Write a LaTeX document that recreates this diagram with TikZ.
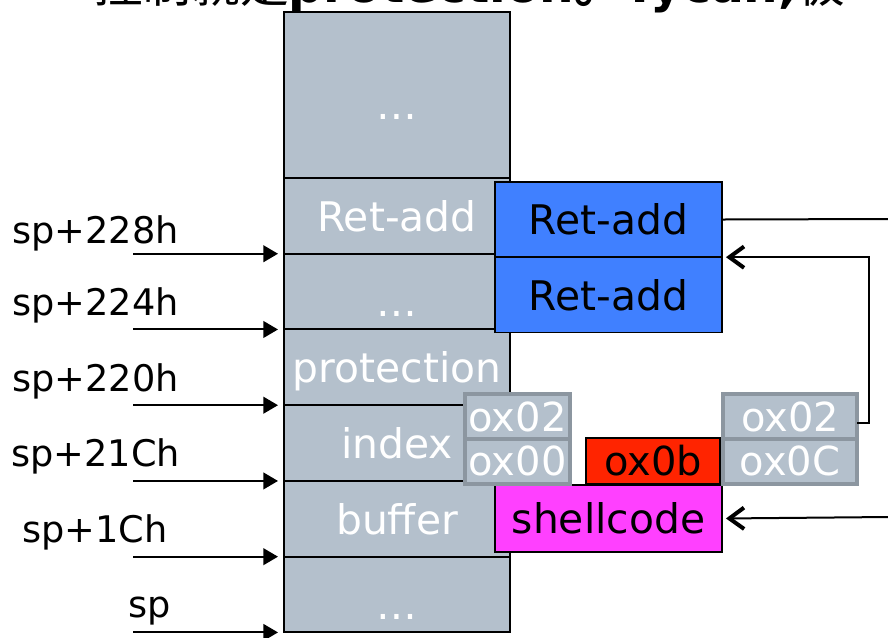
\documentclass[tikz,border=0pt]{standalone}
\usepackage{fontspec}
\setmainfont{DejaVu Sans}
\newfontfamily\cjk{Noto Sans CJK SC}
\usetikzlibrary{positioning}
\usetikzlibrary{arrows.meta}

\definecolor{stackgray}{RGB}{180,192,204}
\definecolor{hexedge}{RGB}{140,150,160}
\definecolor{retblue}{RGB}{64,128,255}
\definecolor{shellpink}{RGB}{255,64,255}
\definecolor{hexred}{RGB}{255,36,0}

\newcommand{\lowdots}{\raisebox{-7pt}{…}}

\tikzset{
    cell/.style={draw=black, line width=1.5pt, fill=stackgray, text=white, inner sep=0pt, outer sep=0pt,
        minimum width=169.5pt, minimum height=56.8pt, text height=28pt, text depth=5pt,
        font=\fontsize{30.6}{32}\selectfont},
    retbox/.style={draw=black, line width=1.2pt, fill=retblue, inner sep=0pt, outer sep=0pt,
        minimum width=170.2pt, minimum height=56.5pt, font=\fontsize{30.6}{32}\selectfont},
    hexbox/.style={draw=hexedge, line width=3pt, fill=stackgray, text=white, inner sep=0pt, outer sep=0pt,
        minimum height=33.5pt, font=\fontsize{30}{32}\selectfont},
    splabel/.style={anchor=base west, inner sep=0pt, font=\fontsize{27.5}{30}\selectfont},
    ptr/.style={line width=1.5pt, shorten >=4.5pt, -{Triangle[length=11pt,width=12.5pt]}},
    backptr/.style={line width=1.5pt, shorten >=3pt, -{Straight Barb[length=11pt,width=16pt,line width=3pt]}}
}

\begin{document}
\begin{tikzpicture}[x=0.75pt,y=-0.75pt]
    \useasboundingbox (0,0) rectangle (888,637);
    \clip (0,0) rectangle (888,637);

    %TITLE (cut off)
    \node[anchor=base west, inner sep=0pt, font=\fontsize{36.5}{40}\selectfont] (title) at (94,2)
        {{\cjk 控制就是}\textbf{protection{\cjk 。}Tycan,}{\cjk 极}};

    %STACK
    \node[cell, minimum height=124.5pt] (top) at (397,95) {\lowdots};
    \node[cell, below=0pt of top] (retadd) {Ret-add};
    \node[cell, below=0pt of retadd] (gap) {\lowdots};
    \node[cell, below=0pt of gap] (prot) {protection};
    \node[cell, below=0pt of prot] (idx) {index};
    \node[cell, below=0pt of idx] (buf) {buffer};
    \node[cell, below=0pt of buf] (low) {\lowdots};

    %LABELS
    \node[splabel] (l228) at (12,243) {sp+228h};
    \node[splabel] (l224) at (12,315) {sp+224h};
    \node[splabel] (l220) at (12,391) {sp+220h};
    \node[splabel] (l21C) at (11,466) {sp+21Ch};
    \node[splabel] (l1C) at (22,542) {sp+1Ch};
    \node[splabel] (lsp) at (128,617) {sp};

    \coordinate (s228) at (133,0);
    \draw[ptr] (retadd.south west -| s228) -- (retadd.south west);
    \draw[ptr] (gap.south west -| s228) -- (gap.south west);
    \draw[ptr] (prot.south west -| s228) -- (prot.south west);
    \draw[ptr] (idx.south west -| s228) -- (idx.south west);
    \draw[ptr] (buf.south west -| s228) -- (buf.south west);
    \draw[ptr] (low.south west -| s228) -- (low.south west);

    %OVERWRITE
    \node[retbox] (retA) at (608.5,219.5) {Ret-add};
    \node[retbox, below=0pt of retA] (retB) {Ret-add};
    \node[retbox, fill=shellpink, minimum height=50.2pt] (shell) at (608.5,518.5) {shellcode};
    \node[draw=black, line width=1.2pt, fill=hexred, inner sep=0pt, outer sep=0pt, minimum width=100.5pt,
        minimum height=34.5pt, font=\fontsize{30}{32}\selectfont] (ox0b) at (653,461) {ox0b};

    \node[hexbox, minimum width=79pt] (hexL1) at (517.5,416.5) {ox02};
    \node[hexbox, minimum width=79pt, below=0pt of hexL1] (hexL0) {ox00};
    \node[hexbox, minimum width=100.5pt] (hexR1) at (790,416.5) {ox02};
    \node[hexbox, minimum width=100.5pt, below=0pt of hexR1] (hexR0) {ox0C};

    %CONNECTORS
    \coordinate (outA) at (888,219);
    \coordinate (inB) at (888,517);
    \draw[line width=1.5pt] (retA.east) -- (outA);
    \draw[backptr] ([yshift=-4.5pt]hexR1.east) -- ++(12,0) |- (retA.south east);
    \draw[backptr] (inB) -- (shell.east);
\end{tikzpicture}
\end{document}
